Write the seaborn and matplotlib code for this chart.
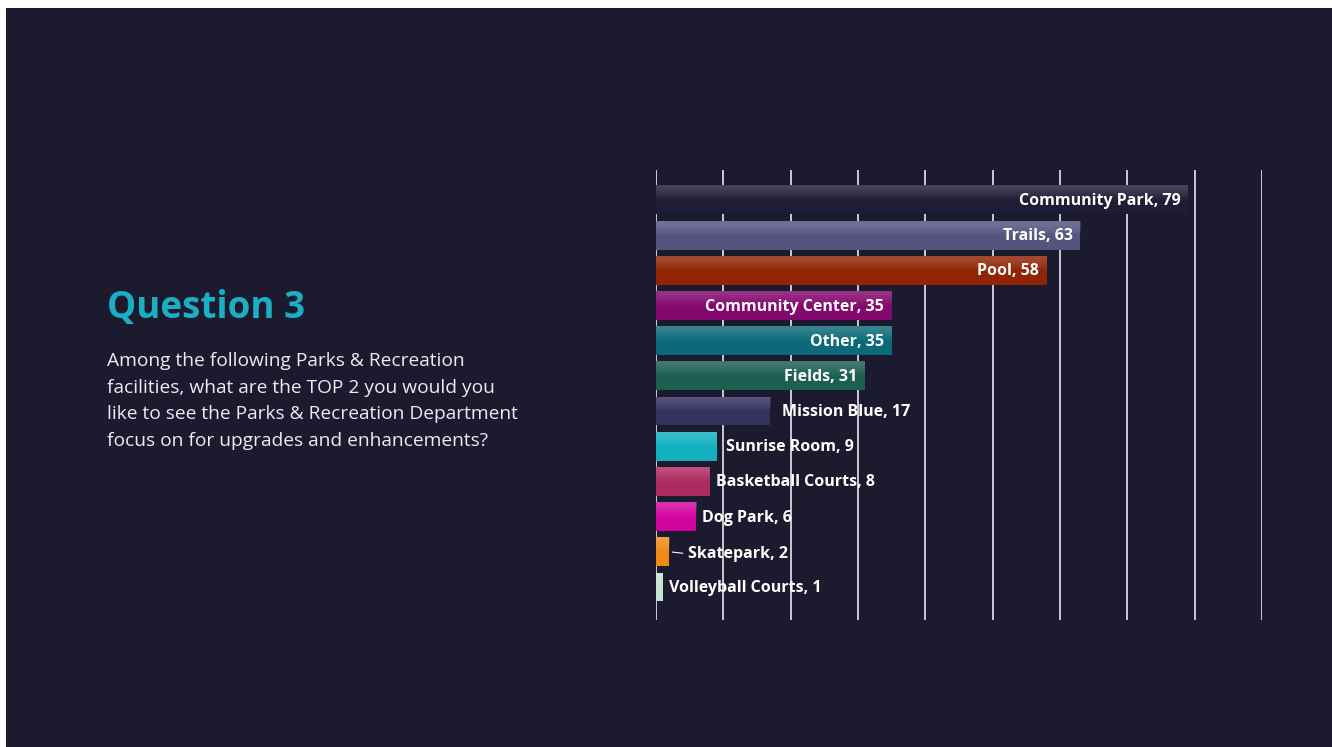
import matplotlib
matplotlib.use("Agg")
import matplotlib.pyplot as plt
import seaborn as sns
import numpy as np
import pandas as pd
from matplotlib.patches import Rectangle

categories = ["Community Park", "Trails", "Pool", "Community Center", "Other", "Fields",
              "Mission Blue", "Sunrise Room", "Basketball Courts", "Dog Park",
              "Skatepark", "Volleyball Courts"]
values = [79, 63, 58, 35, 35, 31, 17, 9, 8, 6, 2, 1]
colors = ["#1f1d35", "#54547f", "#902405", "#83086e", "#0b6a78", "#1b5f50",
          "#34315e", "#13b0c0", "#ad2a5f", "#d2049f", "#ef8a17", "#c5e4d3"]
inside = [True, True, True, True, True, True, False, False, False, False, False, False]
x_ticks = [0, 10, 20, 30, 40, 50, 60, 70, 80, 90]

title = "Question 3"
body_lines = ["Among the following Parks & Recreation",
              "facilities, what are the TOP 2 you would you",
              "like to see the Parks & Recreation Department",
              "focus on for upgrades and enhancements?"]

BG = "#1c1a2e"
W, H = 1332, 747

sns.set_theme(style="dark")
plt.rcParams['font.family'] = ['Open Sans', 'DejaVu Sans']

fig = plt.figure(figsize=(W / 100, H / 100), dpi=100)
fig.patch.set_facecolor("white")
fig.add_artist(Rectangle((6 / W, 0), 1 - 6 / W, 1 - 8 / H, transform=fig.transFigure,
                         facecolor=BG, edgecolor="none", zorder=0))

ax_left, ax_right = 656 / W, 1262 / W
ax_top, ax_bot = 1 - 170 / H, 1 - 620 / H
ax = fig.add_axes([ax_left, ax_bot, ax_right - ax_left, ax_top - ax_bot])
ax.set_facecolor("none")

df = pd.DataFrame({"cat": categories, "val": values})
sns.barplot(data=df, y="cat", x="val", hue="cat", palette=dict(zip(categories, colors)),
            orient="h", width=0.82, legend=False, ax=ax, zorder=3, saturation=1,
            edgecolor="none", linewidth=0)

ax.set_xlim(0, 90)
ax.set_ylim(11.94, -0.85)
ax.set_xticks(x_ticks)
ax.set_xticklabels([])
ax.set_yticks([])
ax.set_xlabel("")
ax.set_ylabel("")
ax.tick_params(length=0)
ax.grid(False)
for s in ax.spines.values():
    s.set_visible(False)
for xt in x_ticks:
    ax.axvline(xt, color="#c9c9d2", lw=1.4, zorder=1)

# subtle top gradient on bars
grad = np.linspace(1, 0, 64).reshape(-1, 1)
for p in ax.patches:
    x0, y0 = p.get_x(), p.get_y()
    w, h = p.get_width(), p.get_height()
    rgba = np.zeros((64, 1, 4))
    rgba[..., :3] = 1.0
    rgba[..., 3] = 0.17 * np.clip(grad * 2.2 - 1.0, 0, 1)
    im = ax.imshow(rgba, extent=(x0, x0 + w, y0 + h, y0), aspect="auto", zorder=4,
                   interpolation="bilinear")
    im.set_clip_path(p)
ax.set_xlim(0, 90)
ax.set_ylim(11.94, -0.85)

FS = 11.5
for i, (c, v, ins) in enumerate(zip(categories, values, inside)):
    lab = f"{c}, {v}"
    if ins:
        ax.annotate(lab, (v, i), xytext=(-5.5, -0.8), textcoords="offset points",
                    ha="right", va="center", color="white", fontsize=FS,
                    fontweight="bold", zorder=6)
    elif c == "Skatepark":
        ax.annotate(lab, (v, i), xytext=(13, -1.5), textcoords="offset points",
                    ha="left", va="center", color="white", fontsize=FS,
                    fontweight="bold", zorder=6,
                    arrowprops=dict(arrowstyle="-", color="white", lw=0.8,
                                    shrinkA=1, shrinkB=2, relpos=(0, 0.5)))
    else:
        off = {"Mission Blue": 8, "Sunrise Room": 7, "Basketball Courts": 4.3,
               "Dog Park": 3.8, "Volleyball Courts": 4.3}.get(c, 5)
        ax.annotate(lab, (v, i), xytext=(off, -0.8), textcoords="offset points",
                    ha="left", va="center", color="white", fontsize=FS,
                    fontweight="bold", zorder=6)

fig.text(107 / W, 1 - 308 / H, title, color="#1aafc2", fontsize=26.5, fontweight="bold",
         ha="left", va="center")
for k, line in enumerate(body_lines):
    fig.text(107 / W, 1 - (361 + k * 26.7) / H, line, color="#ececf2", fontsize=13.8,
             ha="left", va="center")

fig.savefig("out.png", dpi=100, facecolor=fig.get_facecolor())
